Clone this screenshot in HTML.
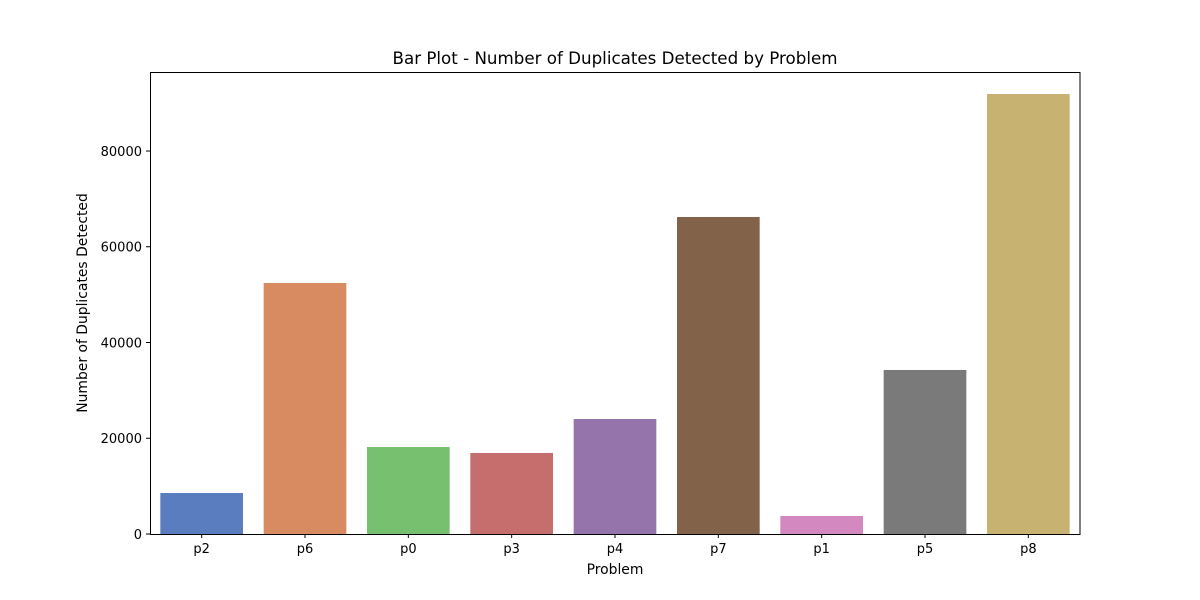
<!DOCTYPE html>
<html><head><meta charset="utf-8"><style>
body{margin:0;background:#fff;}
svg{display:block;font-family:"DejaVu Sans","Liberation Sans",sans-serif;}
</style></head><body>
<svg id="chart" width="1200" height="600">
<rect width="1200" height="600" fill="#fff"/>
<text x="615" y="64" text-anchor="middle" font-size="16.7">Bar Plot - Number of Duplicates Detected by Problem</text>
<text x="615" y="574" text-anchor="middle" font-size="13.9">Problem</text>
<text transform="translate(87,303) rotate(-90)" text-anchor="middle" font-size="13.9">Number of Duplicates Detected</text>
<g id="bars"></g><g id="xticks"></g><g id="yticks"></g>
<rect x="150.5" y="72.5" width="929.5" height="462" fill="none" stroke="#000" stroke-width="1"/>
</svg>
<script>
const categories=["p2","p6","p0","p3","p4","p7","p1","p5","p8"];
const values=[8560,52430,18170,16920,24020,66210,3760,34260,91900];
const colors=["#5a7dc0","#d88b60","#77c06f","#c66e6d","#9574ac","#82634a","#d389c0","#7a7a7a","#c8b272"];
const yTicks=[0,20000,40000,60000,80000];
const L=150,R=1080,T=72,B=534,yMax=96500;
const ns="http://www.w3.org/2000/svg";
const y=v=>B-(v/yMax)*(B-T);
const step=(R-L)/categories.length;
const x=i=>L+step*i+step/2;
function mk(tag,attrs,parent){const e=document.createElementNS(ns,tag);for(const k in attrs)e.setAttribute(k,attrs[k]);parent.appendChild(e);return e;}
const gb=document.getElementById('bars'),gx=document.getElementById('xticks'),gy=document.getElementById('yticks');
categories.forEach((c,i)=>{
 const bw=step*0.8;
 const r=mk('rect',{x:x(i)-bw/2,y:y(values[i]),width:bw,height:B-y(values[i]),fill:colors[i]},gb);
 
 
 const t=mk('line',{x1:x(i),x2:x(i),y1:B,y2:B+4,stroke:'#000'},gx);
 
 
 const tx=mk('text',{x:x(i),y:B+19,'text-anchor':'middle','font-size':13},gx);
 tx.textContent=c;
 
 
});
yTicks.forEach(v=>{
 const t=mk('line',{x1:L-4,x2:L,y1:y(v),y2:y(v),stroke:'#000'},gy);
 
 
 const tx=mk('text',{x:L-8,y:y(v)+5,'text-anchor':'end','font-size':13},gy);
 tx.textContent=v;
 
 
});
</script>
</body></html>
